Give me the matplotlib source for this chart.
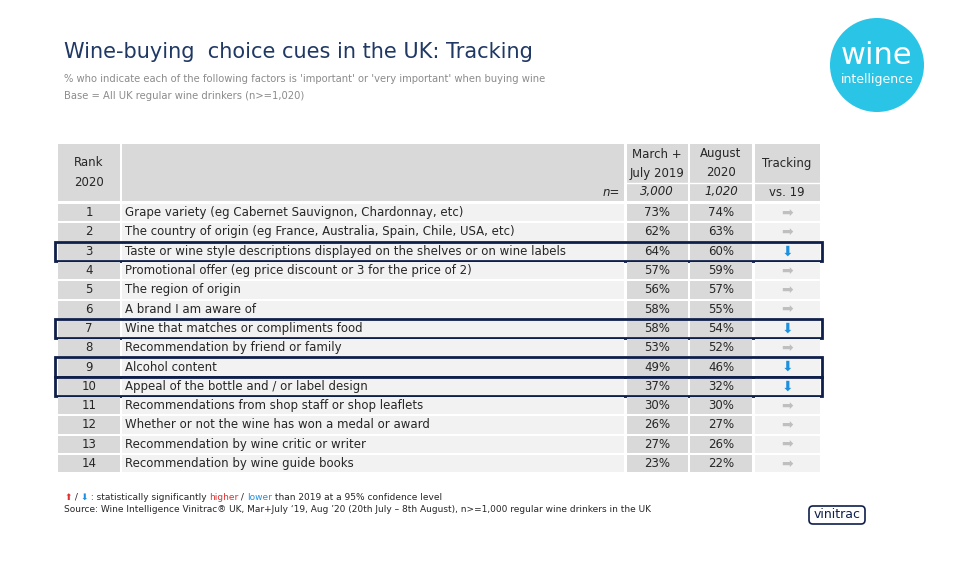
import matplotlib.pyplot as plt
from matplotlib.patches import Rectangle, Circle, FancyBboxPatch

ranks = list(range(1, 15))
factors = [
    "Grape variety (eg Cabernet Sauvignon, Chardonnay, etc)",
    "The country of origin (eg France, Australia, Spain, Chile, USA, etc)",
    "Taste or wine style descriptions displayed on the shelves or on wine labels",
    "Promotional offer (eg price discount or 3 for the price of 2)",
    "The region of origin",
    "A brand I am aware of",
    "Wine that matches or compliments food",
    "Recommendation by friend or family",
    "Alcohol content",
    "Appeal of the bottle and / or label design",
    "Recommendations from shop staff or shop leaflets",
    "Whether or not the wine has won a medal or award",
    "Recommendation by wine critic or writer",
    "Recommendation by wine guide books",
]
pct_2019 = [73, 62, 64, 57, 56, 58, 58, 53, 49, 37, 30, 26, 27, 23]
pct_2020 = [74, 63, 60, 59, 57, 55, 54, 52, 46, 32, 30, 27, 26, 22]
tracking = ["same", "same", "down", "same", "same", "same", "down",
            "same", "down", "down", "same", "same", "same", "same"]

fig = plt.figure(figsize=(9.6, 5.67), dpi=100)
ax = fig.add_axes([0, 0, 1, 1])
ax.set_xlim(0, 960)
ax.set_ylim(567, 0)
ax.axis("off")

txt = "#262626"
grey = "#d9d9d9"
light = "#f2f2f2"
navy = "#0f1f4b"
red = "#e03030"
blue = "#1e90e0"

ax.text(64, 52, "Wine-buying  choice cues in the UK: Tracking", fontsize=15, color="#1f3864", va="center")
ax.text(64, 79, "% who indicate each of the following factors is 'important' or 'very important' when buying wine",
        fontsize=7.2, color="#8c8c8c", va="center")
ax.text(64, 96, "Base = All UK regular wine drinkers (n>=1,020)", fontsize=7.2, color="#8c8c8c", va="center")

cols = [(58, 120), (122, 624), (627, 688), (690, 752), (755, 820)]
for x0, x1 in cols:
    ax.add_patch(Rectangle((x0, 144), x1 - x0, 57, color=grey, lw=0))
ax.text(89, 163, "Rank", ha="center", va="center", fontsize=8.5, color=txt)
ax.text(89, 183, "2020", ha="center", va="center", fontsize=8.5, color=txt)
ax.text(657, 154, "March +", ha="center", va="center", fontsize=8.5, color=txt)
ax.text(657, 173, "July 2019", ha="center", va="center", fontsize=8.5, color=txt)
ax.text(721, 154, "August", ha="center", va="center", fontsize=8.5, color=txt)
ax.text(721, 173, "2020", ha="center", va="center", fontsize=8.5, color=txt)
ax.text(787, 163, "Tracking", ha="center", va="center", fontsize=8.5, color=txt)
ax.plot([627, 820], [183, 183], color="white", lw=1)
ax.text(620, 192, "n=", ha="right", va="center", fontsize=8.5, style="italic", color=txt)
ax.text(657, 192, "3,000", ha="center", va="center", fontsize=8.5, style="italic", color=txt)
ax.text(721, 192, "1,020", ha="center", va="center", fontsize=8.5, style="italic", color=txt)
ax.text(787, 192, "vs. 19", ha="center", va="center", fontsize=8.5, color=txt)

top, h = 203, 19.3
for i, (r, f, a, b, t) in enumerate(zip(ranks, factors, pct_2019, pct_2020, tracking)):
    y0 = top + i * h
    yc = y0 + h / 2
    fills = [grey, light, grey, grey, light]
    for (x0, x1), c in zip(cols, fills):
        ax.add_patch(Rectangle((x0, y0 + 1), x1 - x0, h - 2, color=c, lw=0))
    ax.text(89, yc, str(r), ha="center", va="center", fontsize=8.5, color=txt)
    ax.text(125, yc, f, ha="left", va="center", fontsize=8.5, color=txt)
    ax.text(657, yc, f"{a}%", ha="center", va="center", fontsize=8.5, color=txt)
    ax.text(721, yc, f"{b}%", ha="center", va="center", fontsize=8.5, color=txt)
    if t == "down":
        ax.text(787, yc, "\u2b07", ha="center", va="center", fontsize=10, color=blue)
        ax.add_patch(Rectangle((55, y0), 767, h, fill=False, ec=navy, lw=2))
    else:
        ax.text(787, yc, "\u27a1", ha="center", va="center", fontsize=10, color="#bfbfbf")

# footnote, pieces chained so they never overlap
pieces = [("\u2b06", red), (" / ", txt), ("\u2b07", blue), (" : statistically significantly ", txt),
          ("higher", red), (" / ", txt), ("lower", blue), (" than 2019 at a 95% confidence level", txt)]
prev = ax.text(64, 497, pieces[0][0], color=pieces[0][1], fontsize=6.5, va="center")
for s, c in pieces[1:]:
    prev = ax.annotate(s, xy=(1, 0.5), xycoords=prev, va="center", ha="left",
                       color=c, fontsize=6.5)
ax.text(64, 510, "Source: Wine Intelligence Vinitrac\u00ae UK, Mar+July \u201819, Aug \u201920 (20th July \u2013 8th August), n>=1,000 regular wine drinkers in the UK",
        color=txt, fontsize=6.5, va="center")

# logos
ax.add_patch(Circle((877, 65), 47, color="#29c4e6", lw=0))
ax.text(877, 56, "wine", ha="center", va="center", fontsize=22, color="white")
ax.text(877, 80, "intelligence", ha="center", va="center", fontsize=9, color="white")
ax.add_patch(FancyBboxPatch((809, 506), 56, 18, boxstyle="round,pad=0,rounding_size=4",
                            fill=False, ec=navy, lw=1.2))
ax.text(837, 515, "vinitrac", ha="center", va="center", fontsize=9, color=navy)

fig.savefig("out.png", dpi=100)
